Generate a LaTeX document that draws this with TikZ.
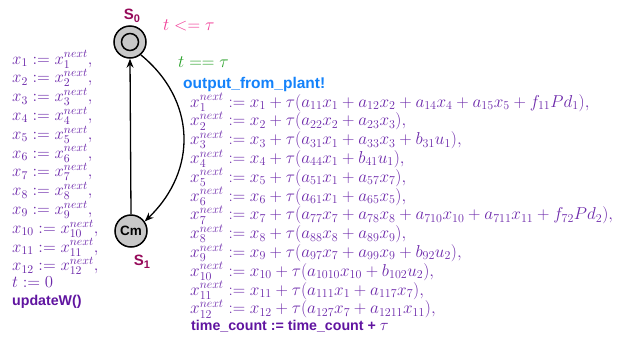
\RequirePackage{fix-cm}
\documentclass[tikz,border=0pt]{standalone}
\usepackage{fontspec}
\setsansfont{Liberation Sans}
\usetikzlibrary{arrows.meta}
\definecolor{mpurple}{RGB}{108,40,170}
\definecolor{bpurple}{RGB}{96,20,160}
\definecolor{lblred}{RGB}{150,10,90}
\definecolor{invpink}{RGB}{240,60,150}
\definecolor{grdgreen}{RGB}{40,160,40}
\definecolor{syncblue}{RGB}{20,130,250}
\definecolor{locfill}{RGB}{200,200,200}
\tikzset{
  loc/.style={circle, draw=black, line width=1.5pt, fill=locfill, minimum size=32pt, inner sep=0pt, font=\sffamily\bfseries\fontsize{13.5}{15}\selectfont},
  loclabel/.style={text=lblred, font=\sffamily\bfseries\fontsize{15}{17}\selectfont},
  upd/.style={anchor=base west, inner sep=0pt, text=mpurple, font=\fontsize{17.2}{18}\selectfont},
  updl/.style={anchor=base west, inner sep=0pt, text=mpurple, font=\fontsize{16.8}{18}\selectfont},
  updb/.style={anchor=base west, inner sep=0pt, text=bpurple, font=\sffamily\bfseries\fontsize{14.2}{16}\selectfont},
  edge/.style={line width=1.3pt, -{Stealth[length=9pt,width=7pt]}},
}
\begin{document}
\begin{tikzpicture}[x=1pt,y=-1pt]
\useasboundingbox (0,0) rectangle (642,338);
% locations
\node[loc] (s0) at (130,42) {};
\draw[line width=1.5pt] (s0.center) circle[radius=8.5pt];
\node[loc] (s1) at (131,231) {Cm};
\node[loclabel] (s0l) at (132,16) {S\raisebox{-0.35ex}{\fontsize{11}{12}\selectfont 0}};
\node[loclabel] (s1l) at (142,262) {S\raisebox{-0.35ex}{\fontsize{11}{12}\selectfont 1}};
% edges
\draw[edge] (s1.north) -- (s0.south);
\draw[edge] (s0.-50) .. controls (196,100) and (198,170) .. (s1.35);
% invariant, guard, sync
\node[anchor=base west, inner sep=0pt, text=invpink, font=\fontsize{17.5}{19}\selectfont] (inv) at (163,30) {$t <= \tau$};
\node[anchor=base west, inner sep=0pt, text=grdgreen, font=\fontsize{17.5}{19}\selectfont] (grd) at (178,67) {$t == \tau$};
\node[anchor=base west, inner sep=0pt, text=syncblue, font=\sffamily\bfseries\fontsize{15.5}{17}\selectfont] (sync) at (183,88) {output\_from\_plant!};
% right updates
\node[upd] (r1) at (190,107) {$x_1^{next} := x_1 + \tau(a_{11}x_1 + a_{12}x_2 + a_{14}x_4 + a_{15}x_5 + f_{11}Pd_1),$};
\node[upd] (r2) at (190,125.8) {$x_2^{next} := x_2 + \tau(a_{22}x_2 + a_{23}x_3),$};
\node[upd] (r3) at (190,144.6) {$x_3^{next} := x_3 + \tau(a_{31}x_1 + a_{33}x_3 + b_{31}u_1),$};
\node[upd] (r4) at (190,163.4) {$x_4^{next} := x_4 + \tau(a_{44}x_1 + b_{41}u_1),$};
\node[upd] (r5) at (190,182.2) {$x_5^{next} := x_5 + \tau(a_{51}x_1 + a_{57}x_7),$};
\node[upd] (r6) at (190,201) {$x_6^{next} := x_6 + \tau(a_{61}x_1 + a_{65}x_5),$};
\node[upd] (r7) at (190,219.8) {$x_7^{next} := x_7 + \tau(a_{77}x_7 + a_{78}x_8 + a_{710}x_{10} + a_{711}x_{11} + f_{72}Pd_2),$};
\node[upd] (r8) at (190,238.6) {$x_8^{next} := x_8 + \tau(a_{88}x_8 + a_{89}x_9),$};
\node[upd] (r9) at (190,257.4) {$x_9^{next} := x_9 + \tau(a_{97}x_7 + a_{99}x_9 + b_{92}u_2),$};
\node[upd] (r10) at (190,276.2) {$x_{10}^{next} := x_{10} + \tau(a_{1010}x_{10} + b_{102}u_2),$};
\node[upd] (r11) at (190,295) {$x_{11}^{next} := x_{11} + \tau(a_{111}x_1 + a_{117}x_7),$};
\node[upd] (r12) at (190,313.8) {$x_{12}^{next} := x_{12} + \tau(a_{127}x_7 + a_{1211}x_{11}),$};
\node[updb] (r13) at (191,330) {time\_count := time\_count + {\normalfont\fontsize{16.5}{18}\selectfont$\tau$}};
% left updates
\foreach \i in {1,...,12} {
  \node[updl] (l\i) at (12,{64+(\i-1)*18.8}) {$x_{\i} := x_{\i}^{next},$};
}
\node[updl] (l13) at (12,287) {$t := 0$};
\node[updb] (l14) at (12,305) {updateW()};
\end{tikzpicture}
\end{document}
